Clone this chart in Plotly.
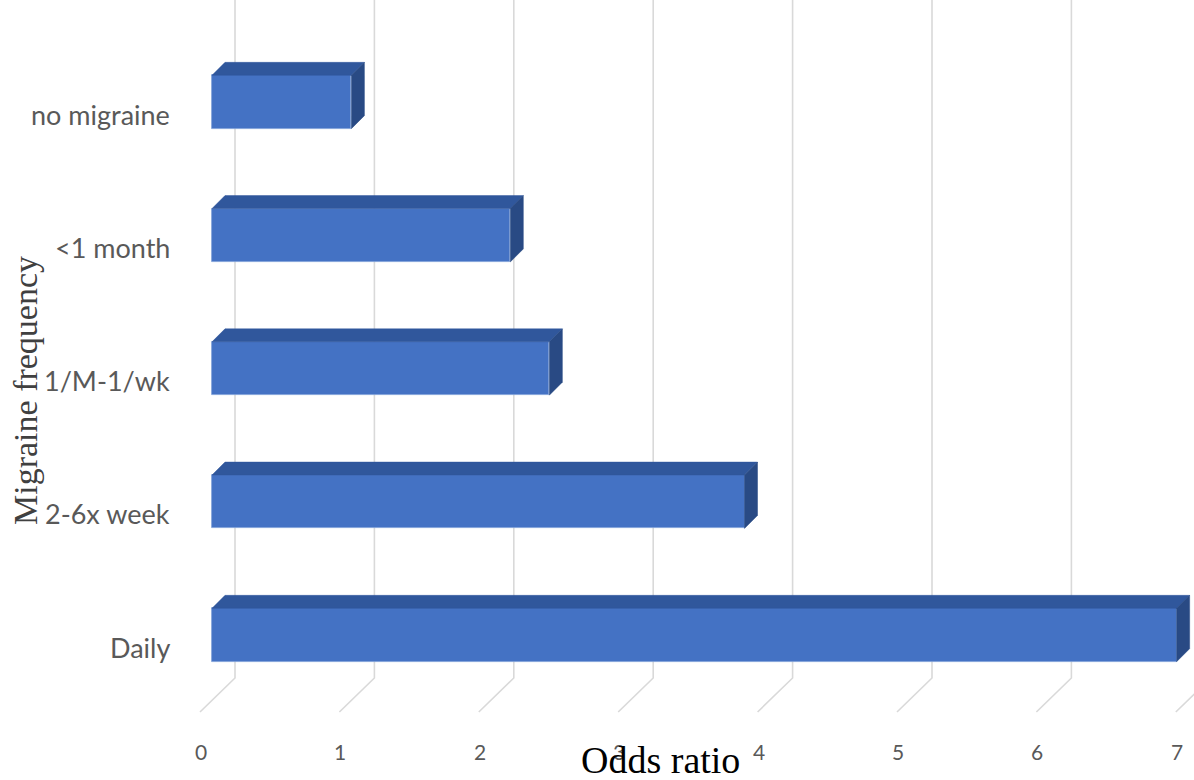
import plotly.graph_objects as go

# Odds ratio of each migraine-frequency group (bottom to top)
categories = ["Daily", "2-6x week", "1/M-1/wk", "<1 month", "no migraine"]
odds_ratio = [6.92, 3.82, 2.42, 2.14, 1.0]
x_ticks = [0, 1, 2, 3, 4, 5, 6, 7]

# Canvas and pixel scale of the chart (front plane of the bars)
W, H = 1194, 780
X0_PX, X_UNIT = 212, 139.4
Y0_PX, Y_UNIT = 635, 133.25


def xd(px):
    return (px - X0_PX) / X_UNIT


def yd(px):
    return (Y0_PX - px) / Y_UNIT


# 3-D look: depth of each bar and offsets of the back wall / floor edge
DX, DY = 13 / X_UNIT, 13 / Y_UNIT
BAR_W = 0.4
HALF = BAR_W / 2
WALL_DX = 23 / X_UNIT
FLOOR_DX = -12 / X_UNIT

FRONT = "#4472C4"
TOP = "#30579C"
SIDE = "#294A84"
GRID = "#D9D9D9"
LABEL = "#595959"

fig = go.Figure()

# gridlines behind the bars: vertical on the back wall, then diagonal across the floor
shapes = []
for v in x_ticks:
    wx = v + WALL_DX
    fx = v + FLOOR_DX
    shapes.append(dict(
        type="path", xref="x", yref="y", layer="below",
        path=f"M {wx},{yd(-5)} L {wx},{yd(678)} L {fx},{yd(712)}",
        line=dict(color=GRID, width=1.6)))

# front faces of the bars
ypos = list(range(len(categories)))
fig.add_trace(go.Bar(x=odds_ratio, y=ypos, orientation="h", width=BAR_W,
                     marker=dict(color=FRONT, line=dict(color="#7E9ED8", width=0.8)),
                     hovertext=categories, showlegend=False))

# top and side faces built from the same values
for yi, v in zip(ypos, odds_ratio):
    top = yi + HALF
    bot = yi - HALF
    fig.add_trace(go.Scatter(
        x=[0, v, v + DX, DX, 0],
        y=[top, top, top + DY, top + DY, top],
        fill="toself", fillcolor=TOP, mode="lines",
        line=dict(color=TOP, width=0.5),
        hoverinfo="skip", showlegend=False))
    fig.add_trace(go.Scatter(
        x=[v, v + DX, v + DX, v, v],
        y=[top, top + DY, bot + DY, bot, top],
        fill="toself", fillcolor=SIDE, mode="lines",
        line=dict(color=SIDE, width=0.5),
        hoverinfo="skip", showlegend=False))

annotations = []
for yi, name in zip(ypos, categories):
    annotations.append(dict(x=xd(172), y=yi - 12 / Y_UNIT, text=name,
                            xanchor="right", yanchor="middle", showarrow=False,
                            font=dict(family="Lato", size=27, color=LABEL)))
for v in x_ticks:
    annotations.append(dict(x=v - 11 / X_UNIT, y=yd(751), text=str(v),
                            xanchor="center", yanchor="middle", showarrow=False,
                            font=dict(family="Lato", size=21, color=LABEL)))
annotations.append(dict(x=xd(660), y=yd(760), text="Odds ratio",
                        xanchor="center", yanchor="middle", showarrow=False,
                        font=dict(family="Liberation Serif", size=38, color="#000000")))
annotations.append(dict(x=xd(25), y=yd(391), text="Migraine frequency",
                        textangle=-90, xanchor="center", yanchor="middle",
                        showarrow=False,
                        font=dict(family="Liberation Serif", size=34, color="#404040")))

fig.update_layout(
    width=W, height=H,
    margin=dict(l=0, r=0, t=0, b=0),
    paper_bgcolor="white", plot_bgcolor="white",
    xaxis=dict(range=[xd(0), xd(W)], visible=False, fixedrange=True),
    yaxis=dict(range=[yd(H), yd(0)], visible=False, fixedrange=True),
    annotations=annotations,
    shapes=shapes,
    bargap=0,
)

fig.write_html("out.html")
